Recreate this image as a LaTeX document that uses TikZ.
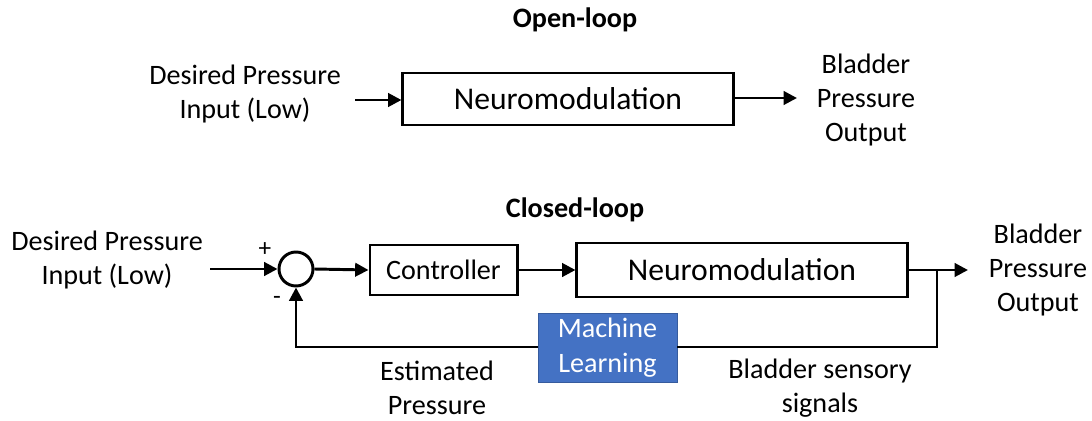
\documentclass[tikz,border=0pt]{standalone}
\usepackage{fontspec}
\setmainfont{Carlito}
\usetikzlibrary{arrows.meta,positioning}

\begin{document}
\begin{tikzpicture}[x=0.025cm,y=-0.025cm,
  txt/.style={align=center,inner sep=1pt,font=\fontsize{20}{24.2}\selectfont},
  blk/.style={draw,line width=2.1pt,inner sep=0pt},
  mlblk/.style={fill=mlblue,draw=mlblue!80!black,line width=0.6pt,text=white,align=center,
    minimum width=3.475cm,minimum height=1.7cm,font=\fontsize{20}{25}\selectfont},
  sig/.style={line width=2.1pt,-{Triangle[length=9.5pt,width=9.5pt]}},
  wire/.style={line width=2.1pt}]
\definecolor{mlblue}{HTML}{4472C4}
\useasboundingbox (0,0) rectangle (1092,421);

% open loop
\node[font=\fontsize{20}{24}\selectfont\bfseries] (ttlopen) at (575,20) {Open-loop};
\node[txt] (inopen) at (245,94) {Desired Pressure\\Input (Low)};
\node[blk,minimum width=8.25cm,minimum height=1.3cm,font=\fontsize{22.5}{26}\selectfont] (neuroopen) at (568,99) {Neuromodulation};
\node[txt] (outopen) at (866,100) {Bladder\\Pressure\\Output};
\coordinate (instart) at (355,100);
\coordinate (outend) at (797,98);
\draw[sig] (instart) -- (instart -| neuroopen.west);
\draw[sig] (neuroopen.east |- outend) -- (outend);

% closed loop
\node[font=\fontsize{20}{24}\selectfont\bfseries] (ttlclosed) at (575,210) {Closed-loop};
\node[txt] (inclosed) at (107,260) {Desired Pressure\\Input (Low)};
\node[draw,circle,line width=2.1pt,minimum size=0.85cm,inner sep=0pt] (sum) at (296,269) {};
\node[font=\fontsize{18}{20}\selectfont] (plus) at (265,250) {+};
\node[font=\fontsize{18}{20}\selectfont] (minus) at (277,300) {-};
\node[blk,minimum width=3.675cm,minimum height=1.25cm,font=\fontsize{20}{24}\selectfont] (ctrl) at (443.5,270) {Controller};
\node[blk,minimum width=8.25cm,minimum height=1.35cm,font=\fontsize{22.5}{26}\selectfont] (neuro) at (742,270) {Neuromodulation};
\node[txt] (outclosed) at (1038,270) {Bladder\\Pressure\\Output};
\node[mlblk] (ml) at (607.5,348) {Machine\\Learning};
\node[txt] (est) at (437,388) {Estimated\\Pressure};
\node[txt] (sens) at (820,388) {Bladder sensory\\signals};

\coordinate (cstart) at (210,269);
\coordinate (cend) at (968,270);
\coordinate (branch) at (937,270);
\coordinate (fbright) at (937,347);
\coordinate (fbleft) at (296,347);

\draw[sig] (cstart) -- (sum.west);
\draw[sig] (sum.east) -- (ctrl.west);
\draw[sig] (ctrl.east) -- (neuro.west);
\draw[sig] (neuro.east) -- (cend);
\draw[wire] (branch) -- (fbright) -- (ml.east |- fbright);
\draw[sig] (ml.west |- fbleft) -- (fbleft) -- (sum.south);
\end{tikzpicture}
\end{document}
